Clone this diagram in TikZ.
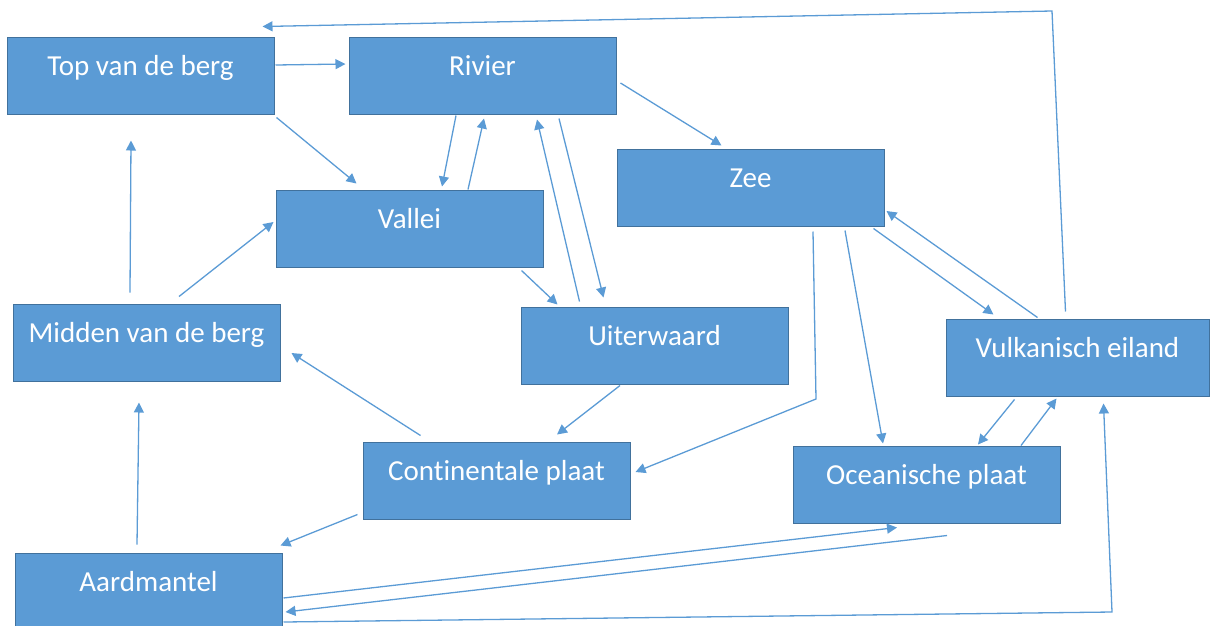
\documentclass[tikz,border=0pt]{standalone}
\usepackage{fontspec}
\setmainfont{Carlito}[Ligatures=NoCommon]
\usetikzlibrary{arrows.meta}
\definecolor{boxfill}{HTML}{5B9BD5}
\definecolor{boxline}{HTML}{41719C}
\definecolor{linkblue}{HTML}{5B9BD5}

\begin{document}
\begin{tikzpicture}[x=1pt, y=-1pt, >={Triangle[length=10pt,width=10pt]}]
   \clip (0,0) rectangle (1210,625);
   \begin{scope}[every node/.style={draw=boxline, line width=1pt, fill=boxfill, text=white,
       font=\fontsize{29}{34}\selectfont, minimum width=267pt, inner sep=0pt,
       text height=38pt, text depth=39pt}]
    \node (top) at (140.5,75.5) {Top van de berg};
    \node (riv) at (482.5,75.5) {Rivier};
    \node (zee) at (750.5,187.5) {Zee};
    \node (val) at (409.5,228.5) {Vallei};
    \node (mid) at (146.5,342.5) {Midden van de berg};
    \node (uit) at (654.5,345.5) {Uiterwaard};
    \node[minimum width=263pt] (vul) at (1077.5,357.5) {Vulkanisch eiland};
    \node (con) at (496.5,480.5) {Continentale plaat};
    \node (oce) at (926.5,484.5) {Oceanische plaat};
    \node (aard) at (148.5,591.5) {Aardmantel};
   \end{scope}
   \coordinate (bendzee) at (816,399);
   \coordinate (bendtop) at (1052,11);
   \coordinate (bendaard) at (1112,612);
   \begin{scope}[link/.style={draw=linkblue, line width=1.3pt, ->}, every edge/.style={link}]
    \draw ([shift={(1,-10.5)}]top.east) edge ([shift={(-3,-11.5)}]riv.west);
    \draw ([shift={(2,3)}]top.south east) edge ([shift={(81,-6)}]val.north west);
    \draw ([shift={(-26.5,1)}]riv.south) edge ([shift={(32.5,-3)}]val.north);
    \draw ([shift={(58.5,0)}]val.north) edge ([shift={(1.5,4)}]riv.south);
    \draw ([shift={(59,-5)}]uit.north west) edge ([shift={(54.5,5)}]riv.south);
    \draw ([shift={(76.5,4)}]riv.south) edge ([shift={(83,-9)}]uit.north west);
    \draw ([shift={(4,7.5)}]riv.east) edge ([shift={(105,-3)}]zee.north west);
    \draw ([shift={(-22,3)}]val.south east) edge ([shift={(37,-2)}]uit.north west);
    \draw ([shift={(-16.5,-11)}]mid.north) edge ([shift={(-9.5,26)}]top.south);
    \draw ([shift={(32.5,-7)}]mid.north) edge ([shift={(-2,-6.5)}]val.west);
    \draw ([shift={(-11.5,-8)}]aard.north) edge ([shift={(-7.5,21)}]mid.south);
    \draw ([shift={(58,-6)}]con.north west) edge ([shift={(11,10.5)}]mid.east);
    \draw ([shift={(-5,-5)}]con.south west) edge ([shift={(-2,-7)}]aard.north east);
    \draw ([shift={(-34.5,1)}]uit.south) edge ([shift={(60.5,-7)}]con.north);
    \draw[link] ([shift={(62.5,5)}]zee.south) -- (bendzee) -- ([shift={(5,-8.5)}]con.east);
    \draw ([shift={(94.5,4)}]zee.south) edge ([shift={(-43.5,-2)}]oce.north);
    \draw ([shift={(-11,2)}]zee.south east) edge ([shift={(48,-4)}]vul.north west);
    \draw ([shift={(92,-1)}]vul.north west) edge ([shift={(2,23.5)}]zee.east);
    \draw[link] ([shift={(120,-7)}]vul.north west) -- (bendtop) -- ([shift={(-12,-10)}]top.north east);
    \draw ([shift={(69,3)}]vul.south west) edge ([shift={(51.5,-1)}]oce.north);
    \draw ([shift={(94.5,0)}]oce.north) edge ([shift={(111,2)}]vul.south west);
    \draw ([shift={(1,6.5)}]aard.east) edge ([shift={(-29.5,4)}]oce.south);
    \draw ([shift={(20.5,12)}]oce.south) edge ([shift={(3,20.5)}]aard.east);
    \draw[link] ([shift={(1,30.5)}]aard.east) -- (bendaard) -- ([shift={(158,7)}]vul.south west);
   \end{scope}
\end{tikzpicture}
\end{document}
